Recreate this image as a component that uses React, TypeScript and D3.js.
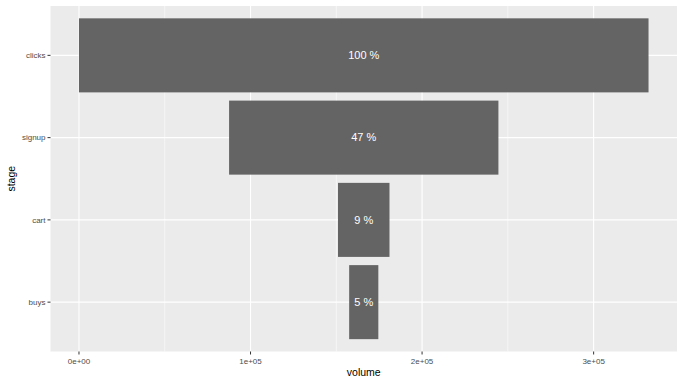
import React from "react";
import * as d3 from "d3";

const stages = ["clicks", "signup", "cart", "buys"];
const volumes = [332000, 157000, 30000, 17000];
const xTicks = [0, 100000, 200000, 300000];
const xTickLabels = ["0e+00", "1e+05", "2e+05", "3e+05"];
const xMinor = [50000, 150000, 250000];

const W = 683, H = 383;
const P = { l: 50.5, r: 677, t: 6, b: 351.5 };

export default function App() {
  const maxV = d3.max(volumes)!;
  const pad = maxV * 0.05;
  const x = d3.scaleLinear().domain([-pad, maxV + pad]).range([P.l, P.r]);
  const unit = (P.b - P.t) / (stages.length - 1 + 1.2);
  const yc = (i: number) => P.t + unit * (0.6 + i);
  const center = maxV / 2;
  const barH = unit * 0.9;
  const font = "Liberation Sans, Arial, sans-serif";
  return (
    <svg width={W} height={H} style={{ position: "absolute", left: 0, top: 0 }}>
      <rect x={0} y={0} width={W} height={H} fill="#fff" />
      <rect x={P.l} y={P.t} width={P.r - P.l} height={P.b - P.t} fill="#EBEBEB" />
      {xMinor.map((v) => (
        <line key={"m" + v} x1={x(v)} x2={x(v)} y1={P.t} y2={P.b} stroke="#fff" strokeWidth={0.55} />
      ))}
      {xTicks.map((v) => (
        <line key={"g" + v} x1={x(v)} x2={x(v)} y1={P.t} y2={P.b} stroke="#fff" strokeWidth={1.1} />
      ))}
      {stages.map((s, i) => (
        <line key={"h" + s} x1={P.l} x2={P.r} y1={yc(i)} y2={yc(i)} stroke="#fff" strokeWidth={1.1} />
      ))}
      {stages.map((s, i) => {
        const v = volumes[i];
        const x0 = x(center - v / 2);
        const x1 = x(center + v / 2);
        return (
          <g key={"b" + s}>
            <rect x={x0} y={yc(i) - barH / 2} width={x1 - x0} height={barH} fill="#646464" />
            <text x={x(center)} y={yc(i)} dy="0.35em" textAnchor="middle" fill="#fff" fontSize={11} fontFamily={font}>
              {Math.round((v / maxV) * 100) + " %"}
            </text>
          </g>
        );
      })}
      {xTicks.map((v, i) => (
        <g key={"t" + v}>
          <line x1={x(v)} x2={x(v)} y1={P.b} y2={P.b + 3} stroke="#333" strokeWidth={1} />
          <text x={x(v)} y={P.b + 12.5} textAnchor="middle" fill="#4d4d4d" fontSize={8} fontFamily={font}>
            {xTickLabels[i]}
          </text>
        </g>
      ))}
      {stages.map((s, i) => (
        <g key={"yt" + s}>
          <line x1={P.l - 3} x2={P.l} y1={yc(i)} y2={yc(i)} stroke="#333" strokeWidth={1} />
          <text x={P.l - 5} y={yc(i)} dy="0.35em" textAnchor="end" fill="#4d4d4d" fontSize={8} fontFamily={font}>
            {s}
          </text>
        </g>
      ))}
      <text x={(P.l + P.r) / 2} y={376} textAnchor="middle" fill="#000" fontSize={10.5} fontFamily={font}>
        volume
      </text>
      <text transform={`translate(15,${(P.t + P.b) / 2}) rotate(-90)`} textAnchor="middle" fill="#000" fontSize={10.5} fontFamily={font}>
        stage
      </text>
    </svg>
  );
}
